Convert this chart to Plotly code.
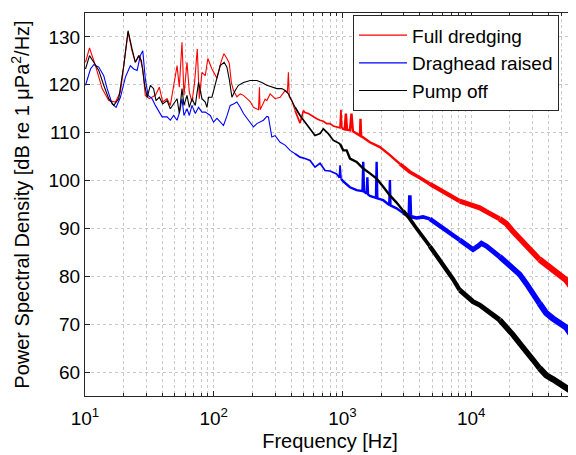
import math
import plotly.graph_objects as go

# ---------------- data ----------------
red_f = [10.09, 10.84, 12.06, 13.59, 15.29, 17.24, 18.84, 20.6, 21.6, 23.2, 24.6, 26.5, 28.1, 29.4,
         31.6, 35.2, 37.8, 40.1, 43.4, 46.0, 48.8, 51.9, 54.0, 56.7, 58.7, 62.0, 64.6, 67.8, 71.0,
         74.5, 77.2, 81.0, 85.9, 90.0, 96.8, 105.9, 113.7, 120.0, 126.6, 132.0, 137.0, 142.4, 151.3,
         160.5, 170.2, 180.9, 191.9, 203.5, 216.3, 222.6, 226.5, 229.0, 236.4, 243.2, 250.7, 258.5,
         274.2, 299.8, 327.8, 358.4, 373.4, 380.1, 386.0, 403.8, 428.4, 454.6, 468.2, 496.8, 512.1,
         543.2, 593.7, 631.0, 669.3, 710.0, 754.3, 800.2, 848.6, 901.6, 956, 973, 990, 1040, 1063,
         1085, 1143, 1175, 1205, 1367, 1380, 1395, 1634, 1953, 2335, 2791, 3337, 3988, 4768, 5700,
         6813, 8146, 9736, 11640, 13120, 16630, 18750, 21090, 23770, 26790, 30130, 33960, 38280,
         43060, 48530, 54700, 59810, 63430]
red_db = [124.7, 127.7, 124.0, 119.2, 116.7, 116.4, 118.5, 126.8, 131.0, 127.1, 124.7, 126.1, 123.3, 117.8,
          117.1, 117.8, 119.5, 116.4, 117.1, 115.7, 119.9, 124.0, 119.5, 128.9, 117.8, 124.7, 118.5, 116.4, 120.5,
          127.5, 117.1, 122.6, 121.9, 125.5, 123.3, 121.4, 124.7, 126.5, 125.5, 124.5, 120.5, 118.8, 117.5,
          118.1, 117.8, 117.1, 116.5, 115.3, 115.0, 114.8, 119.5, 114.8, 115.5, 116.4, 117.0, 116.7,
          118.1, 117.1, 117.4, 118.8, 118.5, 122.6, 117.5, 116.7, 114.6, 112.6, 112.0, 114.6, 114.2,
          114.0, 113.25, 112.9, 112.6, 112.4, 111.9, 111.9, 111.4, 111.2, 111.0, 114.8, 110.9, 110.7, 114.0,
          110.6, 110.5, 114.0, 110.3, 109.4, 112.9, 109.3, 108.0, 107.0, 105.3, 103.5, 101.8, 100.6, 99.3, 98.2,
          96.9, 95.7, 95.0, 94.3, 93.5, 92.0, 91.0, 89.4, 87.9, 86.3, 84.9, 83.5, 82.4,
          81.3, 80.3, 79.2, 77.8, 76.1]

blue_f = [10.09, 11.03, 11.70, 12.79, 13.98, 14.86, 16.25, 17.45, 18.84, 20.6, 22.5, 23.9, 25.4, 26.9,
          28.1, 29.4, 30.9, 33.2, 35.2, 37.3, 39.7, 43.4, 46.0, 48.8, 51.9, 54.3, 56.7, 58.7, 62.0,
          64.6, 67.8, 71.9, 76.2, 81.0, 85.9, 94.0, 99.6, 106.0, 112.3, 119.1, 126.6, 134.3, 142.4,
          151.3, 160.5, 170.2, 186.1, 203.5, 216.3, 243.2, 258.5, 265.9, 282.6, 299.8, 327.8, 358.4,
          391.7, 428.4, 468.2, 512.1, 559.8, 612.1, 669.3, 731.8, 800.2, 901.6, 945, 958, 975, 1014,
          1143, 1288, 1430, 1450, 1470, 1540, 1560, 1580, 1634, 1820, 1842, 1865, 2072, 2310, 2335,
          2360, 2632, 2960, 3300, 3337, 3375, 3761, 4231, 4768, 5373, 6046, 6813, 7680, 8146, 9180,
          10330, 11290, 12000, 13120, 14760, 16630, 18750, 21090, 23770, 26790, 30130, 33960, 38280,
          43060, 48530, 54700, 59810, 63430]
blue_db = [119.9, 123.3, 124.2, 123.7, 121.9, 119.2, 116.0, 115.3, 117.4, 121.6, 124.0, 123.3, 123.0, 126.1,
           127.1, 121.3, 117.8, 117.1, 115.7, 114.6, 113.3, 113.3, 112.6, 113.6, 112.6, 114.3, 117.1, 113.6, 115.0,
           113.6, 115.7, 114.0, 115.3, 114.3, 114.3, 113.6, 112.2, 113.0, 112.3, 111.5, 113.5, 115.7, 116.0,
           116.4, 115.3, 114.0, 112.6, 111.2, 111.9, 112.6, 113.4, 113.3, 109.1, 109.4, 108.0, 107.4,
           106.3, 105.6, 104.9, 104.6, 104.2, 102.8, 103.6, 102.1, 102.0, 101.4, 100.6, 103.2, 100.4, 99.8,
           98.6, 98.0, 97.8, 103.9, 97.7, 97.3, 100.7, 97.1, 96.8, 96.4, 103.9, 96.3, 95.9, 94.9, 100.1,
           94.8, 94.2, 93.2, 92.6, 96.9, 92.5, 92.2, 92.4, 92.0, 91.0, 90.0, 89.0, 88.0, 87.6, 86.5,
           85.6, 86.3, 86.9, 86.3, 85.2, 84.1, 82.8, 81.7, 80.4, 78.5, 76.3, 74.3, 72.3,
           71.2, 70.4, 69.3, 67.8, 65.3]

black_f = [10.09, 10.84, 11.70, 12.79, 13.98, 15.29, 16.72, 18.28, 20.0, 21.6, 23.2, 24.6, 26.1, 27.4,
           29.1, 30.4, 32.2, 34.1, 35.6, 37.8, 40.1, 43.4, 46.0, 48.8, 51.9, 54.0, 56.7, 58.7, 62.0,
           64.6, 67.8, 71.9, 76.2, 81.0, 85.9, 88.6, 91.1, 96.8, 105.9, 112.3, 120.5, 126.6, 132.5,
           138.4, 146.8, 155.5, 170.2, 191.9, 216.3, 236.4, 258.5, 282.6, 309.0, 337.9, 358.4, 380.0,
           403.8, 428.4, 468.2, 512.1, 559.8, 612.1, 669.3, 710.0, 776.0, 848.6, 956, 1014, 1078, 1143,
           1288, 1450, 1634, 1842, 2072, 2335, 2632, 2960, 3337, 3761, 4231, 4768, 5373, 6046, 6813,
           7227, 8146, 9180, 10330, 11640, 13120, 14760, 16630, 18750, 21090, 23770, 26790, 30130,
           33960, 38280, 43060, 48530, 54700, 63430]
black_db = [123.3, 126.1, 124.7, 123.0, 119.9, 117.1, 115.7, 117.1, 124.0, 131.3, 127.5, 124.7, 126.1, 125.1,
            119.9, 117.4, 119.9, 119.2, 116.7, 117.4, 116.0, 116.7, 115.0, 116.0, 117.1, 114.0, 119.2, 115.7, 117.8,
            115.3, 117.1, 115.7, 120.5, 117.1, 116.4, 115.3, 117.4, 117.4, 121.6, 124.0, 124.7, 123.7, 120.9,
            117.4, 118.8, 119.9, 120.5, 120.9, 120.9, 120.5, 119.9, 119.5, 119.2, 119.2, 118.8, 118.1,
            116.7, 115.3, 113.6, 112.2, 110.8, 109.4, 109.8, 110.8, 109.8, 108.4, 107.7, 106.3, 106.3, 104.6,
            103.9, 102.5, 101.5, 100.4, 98.7, 96.9, 95.4, 93.7, 92.0, 90.0, 88.0, 86.3, 84.4, 82.3, 80.6,
            79.4, 77.1, 75.75, 74.7, 74.0, 73.0, 72.0, 70.9, 69.5, 67.8, 66.0, 64.5, 62.6,
            60.8, 59.3, 58.5, 57.6, 56.8, 55.6]

series_names = ["Full dredging", "Draghead raised", "Pump off"]
x_tick_vals = [10, 100, 1000, 10000]
x_tick_text = ["10<sup>1</sup>", "10<sup>2</sup>", "10<sup>3</sup>", "10<sup>4</sup>"]
y_tick_vals = [60, 70, 80, 90, 100, 110, 120, 130]

# ---------------- styling ----------------
FONT = "Liberation Sans, Arial, Helvetica, sans-serif"
AXC = "#262626"
GRIDC = "#c8c8c8"
COLORS = ["#ff0000", "#0000ff", "#000000"]
# the spectra get visually thicker (denser noisy bins) at high frequency
SEG_EDGES = [0, 450, 1000, 3000, 5000, 9000, 18000, 35000, 1e9]
SEG_WIDTHS = [1.1, 1.7, 2.4, 3.6, 4.4, 5.0, 5.6, 6.2]


def segments(f, db):
    out = []
    for i, w in enumerate(SEG_WIDTHS):
        lo, hi = SEG_EDGES[i], SEG_EDGES[i + 1]
        idx = [k for k in range(len(f)) if lo <= f[k] < hi]
        if not idx:
            continue
        a = max(idx[0] - 1, 0)
        b = idx[-1]
        out.append((f[a:b + 1], db[a:b + 1], w))
    return out


fig = go.Figure()
for name, color, f, db in zip(series_names, COLORS,
                              [red_f, blue_f, black_f], [red_db, blue_db, black_db]):
    for j, (fx, dy, w) in enumerate(segments(f, db)):
        fig.add_trace(go.Scatter(
            x=fx, y=dy, mode="lines", name=name, legendgroup=name,
            showlegend=(j == 0), line=dict(color=color, width=w),
            hoverinfo="skip"))

minor_vals = [m * 10 ** e for e in range(1, 5) for m in range(2, 10) if m * 10 ** e <= 64000]

# the page body adds an 8 px offset, so margins are compensated for it
fig.update_layout(
    width=576, height=455,
    margin=dict(l=76.5, r=8.5, t=4.5, b=66.5, autoexpand=False),
    paper_bgcolor="white", plot_bgcolor="white",
    font=dict(family=FONT, size=19, color=AXC),
    showlegend=True,
    legend=dict(x=0.547, y=0.994, xanchor="left", yanchor="top",
                bgcolor="white", bordercolor=AXC, borderwidth=1,
                font=dict(family=FONT, size=19, color="#000000"),
                tracegroupgap=0, itemwidth=48),
    xaxis=dict(type="log", range=[1, math.log10(64000)], automargin=False,
               tickmode="array", tickvals=x_tick_vals, ticktext=x_tick_text,
               ticks="inside", ticklen=5, tickcolor=AXC, ticklabelstandoff=5,
               showline=True, linecolor=AXC, linewidth=1, mirror="ticks",
               showgrid=True, gridcolor=GRIDC, griddash="dot", gridwidth=1,
               minor=dict(tickmode="array", tickvals=minor_vals, ticks="inside", ticklen=3,
                          tickcolor=AXC, showgrid=True, gridcolor=GRIDC, griddash="dot"),
               zeroline=False,
               title=dict(text="Frequency [Hz]", font=dict(size=20, color="#000000"), standoff=6),
               tickfont=dict(size=19, color="#000000")),
    yaxis=dict(range=[55, 135], tickmode="array", tickvals=y_tick_vals, automargin=False,
               ticks="inside", ticklen=5, tickcolor=AXC,
               showline=True, linecolor=AXC, linewidth=1, mirror="ticks",
               showgrid=True, gridcolor=GRIDC, griddash="dot", gridwidth=1,
               zeroline=False,
               title=dict(text="Power Spectral Density [dB re 1 \u03bcPa<sup>2</sup>/Hz]",
                          font=dict(size=20, color="#000000"), standoff=14),
               tickfont=dict(size=19, color="#000000")),
)

fig.write_html("out.html")
